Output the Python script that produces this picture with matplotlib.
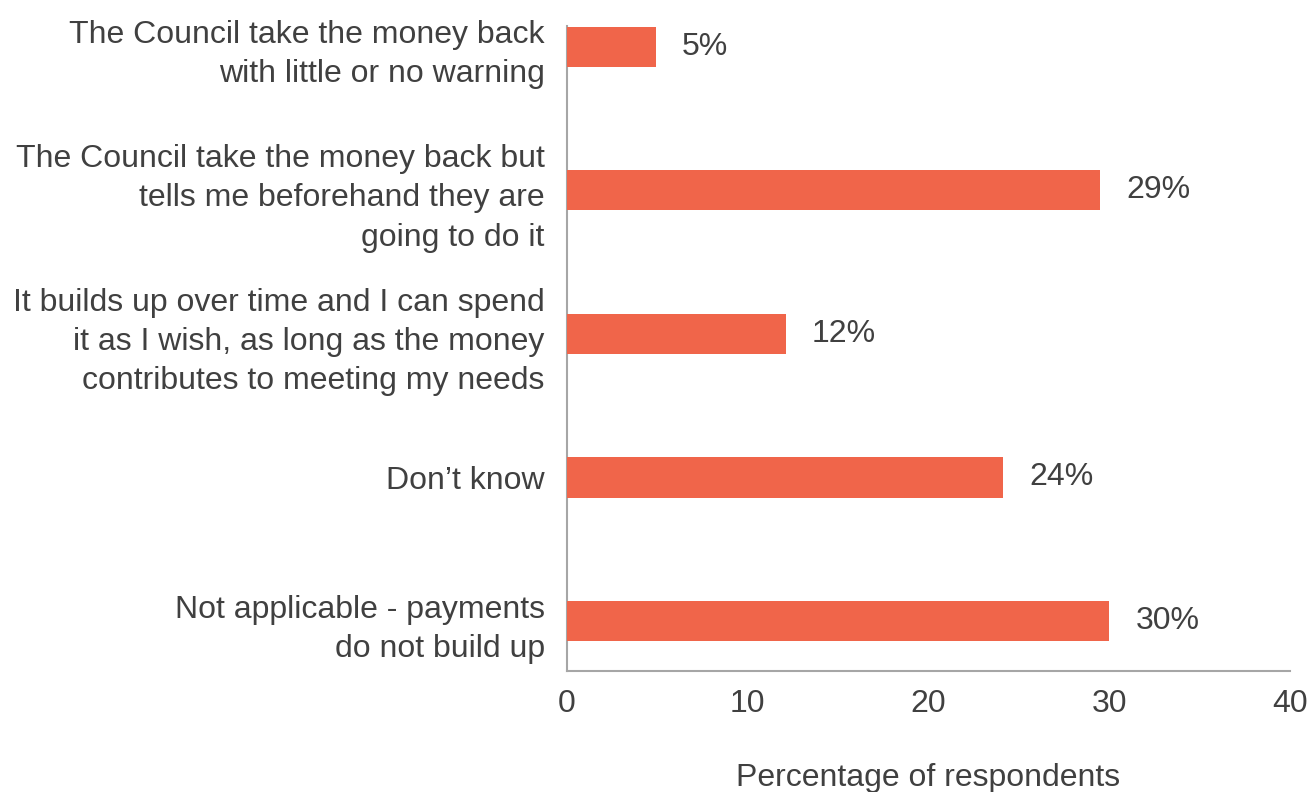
import matplotlib.pyplot as plt

# Data
categories = [
    "The Council take the money back\nwith little or no warning",
    "The Council take the money back but\ntells me beforehand they are\ngoing to do it",
    "It builds up over time and I can spend\nit as I wish, as long as the money\ncontributes to meeting my needs",
    "Don\u2019t know",
    "Not applicable - payments\ndo not build up",
]
values = [4.9, 29.5, 12.1, 24.1, 30.0]
value_labels = ["5%", "29%", "12%", "24%", "30%"]
x_ticks = [0, 10, 20, 30, 40]

bar_color = "#F0654A"
text_color = "#404040"
axis_color = "#A6A6A6"

plt.rcParams['font.family'] = ['Liberation Sans', 'DejaVu Sans']

fig = plt.figure(figsize=(13.11, 7.92), dpi=100)
ax = fig.add_axes([0.4325, 0.1528, 0.984 - 0.4325, 0.8146])

# top category first
ypos = list(range(len(categories)))[::-1]
ax.barh(ypos, values, height=0.28, color=bar_color, zorder=3)

for y, v, lab in zip(ypos, values, value_labels):
    ax.annotate(lab, xy=(v, y), xytext=(19, 0), textcoords='offset points',
                va='center', ha='left', fontsize=23, color=text_color)

ax.set_yticks(ypos)
ax.set_yticklabels(categories, fontsize=23, color=text_color,
                   linespacing=1.4)
ax.set_xticks(x_ticks)
ax.set_xticklabels([str(t) for t in x_ticks], fontsize=23, color=text_color)
ax.set_xlim(0, 40)
ax.set_ylim(-0.348, 4.146)

ax.tick_params(axis='y', length=0, pad=16)
ax.tick_params(axis='x', length=0, pad=13)

for side in ['top', 'right']:
    ax.spines[side].set_visible(False)
for side in ['left', 'bottom']:
    ax.spines[side].set_color(axis_color)
    ax.spines[side].set_linewidth(1.5)

ax.set_xlabel('Percentage of respondents', fontsize=23, color=text_color,
              labelpad=32)

fig.savefig('out.png', dpi=100)
